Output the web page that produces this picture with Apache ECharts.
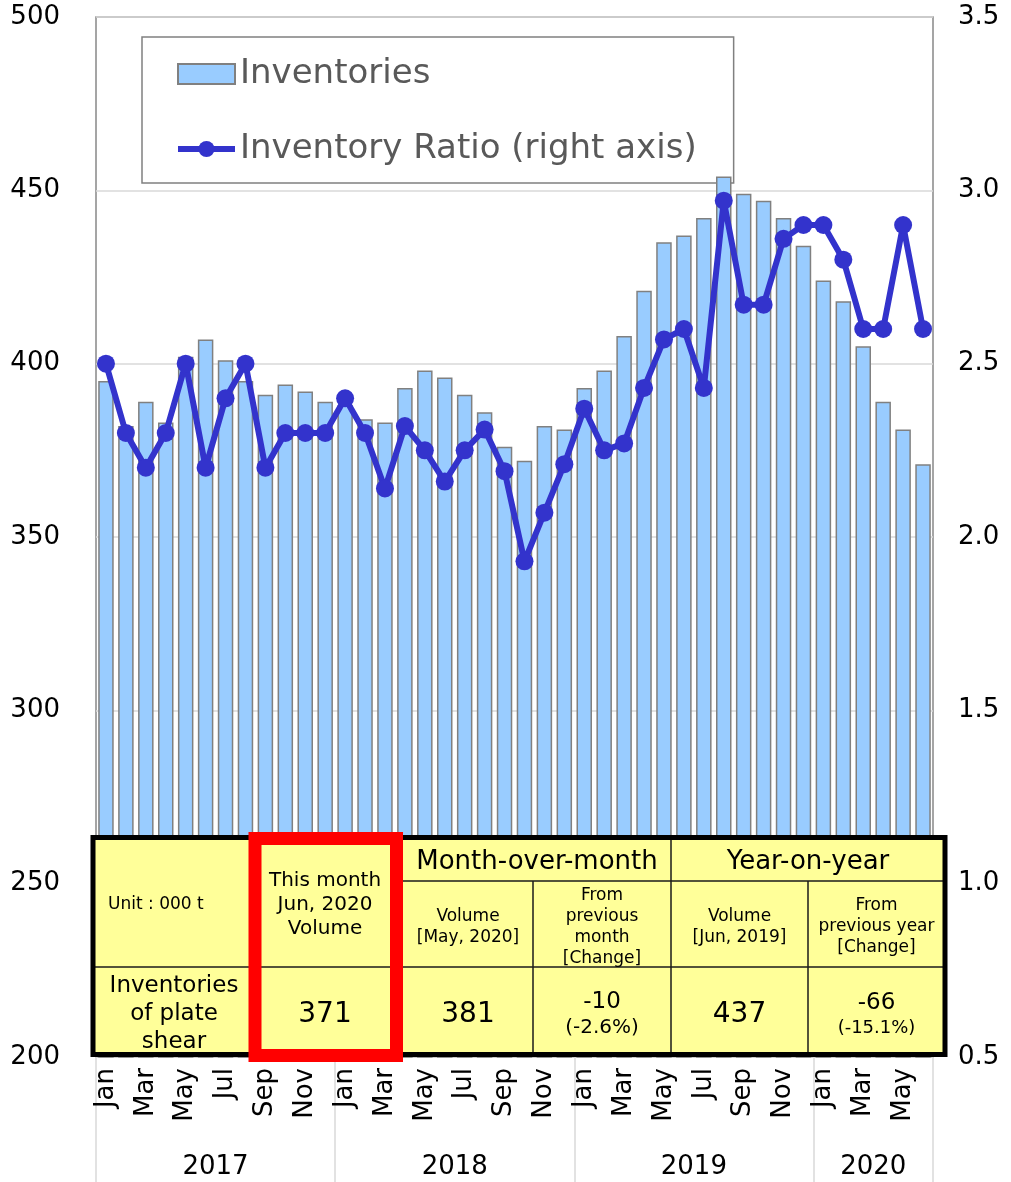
<!DOCTYPE html>
<html>
<head>
<meta charset="utf-8">
<title>Inventories of plate shear</title>
<script src="https://cdn.jsdelivr.net/npm/echarts@6/dist/echarts.min.js"></script>
<style>
  html, body { margin: 0; padding: 0; background: #fff; }
  #myChart { width: 1011px; height: 1182px; }
</style>
</head>
<body>
<div id="myChart"></div>
<script>
const FONT = 'DejaVu Sans';

// months Jan 2017 - Jun 2020
const months = ['Jan','Feb','Mar','Apr','May','Jun','Jul','Aug','Sep','Oct','Nov','Dec',
  'Jan','Feb','Mar','Apr','May','Jun','Jul','Aug','Sep','Oct','Nov','Dec',
  'Jan','Feb','Mar','Apr','May','Jun','Jul','Aug','Sep','Oct','Nov','Dec',
  'Jan','Feb','Mar','Apr','May','Jun'];
const years = ['2017', '2018', '2019', '2020'];
const yearMid = [6, 18, 30, 39];
const yearBounds = [0, 12, 24, 36, 42];

// inventories (000 t), left axis
const inventories = [395, 382, 389, 383, 402, 407, 401, 395, 391, 394, 392, 389,
  388, 384, 383, 393, 398, 396, 391, 386, 376, 372, 382, 381,
  393, 398, 408, 421, 435, 437, 442, 454, 449, 447, 442, 434,
  424, 418, 405, 389, 381, 371];
// inventory ratio, right axis
const ratio = [2.5, 2.3, 2.2, 2.3, 2.5, 2.2, 2.4, 2.5, 2.2, 2.3, 2.3, 2.3,
  2.4, 2.3, 2.14, 2.32, 2.25, 2.16, 2.25, 2.31, 2.19, 1.93, 2.07, 2.21,
  2.37, 2.25, 2.27, 2.43, 2.57, 2.6, 2.43, 2.97, 2.67, 2.67, 2.86, 2.9,
  2.9, 2.8, 2.6, 2.6, 2.9, 2.6];

// table figures
const last = inventories.length - 1;
const thisMonth = inventories[last];
const prevMonth = inventories[last - 1];
const prevYear = inventories[last - 12];
const momDiff = thisMonth - prevMonth;
const yoyDiff = thisMonth - prevYear;
const pct = (d, base) => '(' + (d / base * 100).toFixed(1) + '%)';

const myChart = echarts.init(document.getElementById('myChart'));

function txt(text, x, y, size, lh) {
    const el = {
        type: 'text', z: 102,
        style: {
            text: text, x: x, y: y, fill: '#000',
            fontSize: size, fontFamily: FONT,
            align: 'center', verticalAlign: 'middle',
            textAlign: 'center', textVerticalAlign: 'middle'
        }
    };
    if (lh) el.style.lineHeight = lh;
    return el;
}
function ln(x1, y1, x2, y2) {
    return { type: 'line', z: 101, shape: { x1: x1, y1: y1, x2: x2, y2: y2 },
        style: { stroke: '#1a1a1a', lineWidth: 1.5 } };
}

const unitText = txt('Unit : 000 t', 108, 905, 17);
unitText.style.align = 'left'; unitText.style.textAlign = 'left';

const tableElements = [
    { type: 'rect', z: 100, shape: { x: 93, y: 837.5, width: 852, height: 217 },
      style: { fill: '#ffff99', stroke: null } },
    ln(396, 881, 945, 881),
    ln(93, 967, 945, 967),
    ln(533, 881, 533, 1054),
    ln(671, 840, 671, 1054),
    ln(808, 881, 808, 1054),
    { type: 'rect', z: 103, shape: { x: 93, y: 837.5, width: 852, height: 217 },
      style: { fill: null, stroke: '#000', lineWidth: 5 } },
    { type: 'rect', z: 104, shape: { x: 255, y: 838.5, width: 141.5, height: 217 },
      style: { fill: null, stroke: '#ff0000', lineWidth: 13 } },
    unitText,
    txt('This month\nJun, 2020\nVolume', 325, 905, 20, 24),
    txt('Month-over-month', 537, 862, 26),
    txt('Year-on-year', 808, 862, 26),
    txt('Volume\n[May, 2020]', 468, 927, 17, 21),
    txt('From\nprevious\nmonth\n[Change]', 602, 927, 17, 21),
    txt('Volume\n[Jun, 2019]', 739.5, 927, 17, 21),
    txt('From\nprevious year\n[Change]', 876.5, 927, 17, 21),
    txt('Inventories\nof plate\nshear', 174, 1014, 23, 28),
    txt(String(thisMonth), 325, 1015, 28),
    txt(String(prevMonth), 468, 1015, 28),
    txt(String(momDiff), 602, 1002, 23),
    txt(pct(momDiff, prevMonth), 602, 1028, 20),
    txt(String(prevYear), 739.5, 1015, 28),
    txt(String(yoyDiff), 876.5, 1003, 23),
    txt(pct(yoyDiff, prevYear), 876.5, 1028, 18)
];

const option = {
    backgroundColor: '#fff',
    animation: false,
    textStyle: { fontFamily: FONT },
    grid: {
        left: 96, right: 78, top: 17, bottom: 125,
        show: true, borderColor: '#888', borderWidth: 1.5, backgroundColor: 'transparent'
    },
    legend: {
        orient: 'vertical', left: 142, top: 37,
        padding: [17, 37, 14, 33], itemGap: 35,
        itemWidth: 57, itemHeight: 20,
        backgroundColor: '#fff', borderColor: '#808080', borderWidth: 1.5,
        z: 1,
        textStyle: { fontSize: 34, color: '#595959', fontFamily: FONT, lineHeight: 40 },
        data: [
            { name: 'Inventories', icon: 'rect' },
            { name: 'Inventory Ratio (right axis)', lineStyle: { width: 6 } }
        ]
    },
    xAxis: [
        {
            type: 'category', data: months, position: 'bottom',
            axisLine: { show: false }, axisTick: { show: false },
            axisLabel: { interval: 1, rotate: 90, fontSize: 26, color: '#000', margin: 11, fontFamily: FONT }
        },
        {
            type: 'value', min: 0, max: 42, position: 'bottom',
            axisLine: { show: false }, splitLine: { show: false },
            axisTick: { show: true, customValues: yearBounds, length: 125, inside: false,
                lineStyle: { color: '#d9d9d9', width: 1.5 } },
            axisLabel: {
                customValues: yearMid, margin: 97, fontSize: 26, color: '#000', fontFamily: FONT,
                formatter: v => years[yearMid.indexOf(v)] || ''
            }
        }
    ],
    yAxis: [
        {
            type: 'value', min: 200, max: 500, interval: 50,
            axisLine: { show: false }, axisTick: { show: false },
            axisLabel: { fontSize: 26, color: '#000', margin: 36, fontFamily: FONT },
            splitLine: { lineStyle: { color: '#d9d9d9', width: 1.5 } }
        },
        {
            type: 'value', min: 0.5, max: 3.5, interval: 0.5,
            axisLine: { show: false }, axisTick: { show: false },
            axisLabel: { fontSize: 26, color: '#000', margin: 25, fontFamily: FONT,
                formatter: v => v.toFixed(1) },
            splitLine: { show: false }
        }
    ],
    series: [
        {
            name: 'Inventories', type: 'bar', data: inventories,
            xAxisIndex: 0, yAxisIndex: 0, barWidth: 15.5,
            itemStyle: { color: '#99ccff', borderColor: '#808080', borderWidth: 1.5 }
        },
        {
            name: 'Inventory Ratio (right axis)', type: 'line', data: ratio,
            xAxisIndex: 0, yAxisIndex: 1, z: 3,
            symbol: 'circle', symbolSize: 18, showAllSymbol: true,
            itemStyle: { color: '#3333cc' },
            lineStyle: { color: '#3333cc', width: 6 }
        }
    ],
    graphic: { elements: tableElements }
};
myChart.setOption(option);

window.addEventListener('resize', myChart.resize);
</script>
</body>
</html>
